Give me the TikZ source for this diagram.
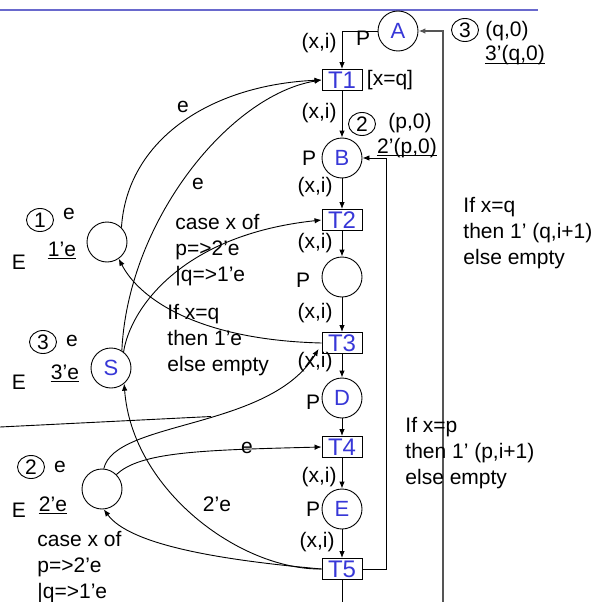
\documentclass[tikz,border=0pt]{standalone}
\usepackage{fontspec}
\setmainfont{Liberation Sans}
\usetikzlibrary{arrows.meta,shapes.geometric}
\definecolor{tblue}{RGB}{55,55,215}
\definecolor{rulecol}{RGB}{105,105,205}
\definecolor{backarc}{RGB}{85,85,85}

\begin{document}
\begin{tikzpicture}[x=1pt,y=-1pt,line width=0.9pt,
  every node/.style={font=\fontsize{21}{26}\selectfont},
  place/.style={draw,circle,minimum size=40pt,inner sep=0pt,text=tblue,font=\fontsize{22}{26}\selectfont},
  trans/.style={draw,rectangle,minimum width=40pt,minimum height=21pt,inner sep=0pt,text=tblue,font=\fontsize{24}{26}\selectfont},
  token/.style={draw,ellipse,minimum width=27pt,minimum height=23pt,inner sep=0pt},
  flow/.style={-{Latex[length=7pt,width=5.5pt]}},
  block/.style={align=left,anchor=west,inner sep=0pt},
  ulbl/.style={anchor=base,inner sep=0pt},
  ul/.style={line width=1.5pt}]
\useasboundingbox (0,0) rectangle (597,602);
\draw[rulecol,line width=1.3pt] (0,10) -- (538,10);

\node[place] (pA) at (398,31) {A};
\node[trans] (T1) at (342,80) {T1};
\node[place] (pB) at (342,158) {B};
\node[trans] (T2) at (342,220) {T2};
\node[place] (pC) at (342,277) {};
\node[trans] (T3) at (342,343) {T3};
\node[place] (pD) at (342,398) {D};
\node[trans] (T4) at (342,447) {T4};
\node[place] (pE) at (342,509) {E};
\node[trans] (T5) at (342,569) {T5};
\node[place] (pE1) at (107,242) {};
\node[place] (pS) at (111,368) {S};
\node[place] (pE2) at (102,489) {};

\coordinate (offB) at (342,602);
\coordinate (offR) at (443,602);
\coordinate (offL) at (0,427);
\coordinate (retB) at (386,158);
\coordinate (mrg) at (211,416.5);

\draw[flow] (pA) -| (T1);
\draw[flow] (T1) -- (pB);
\draw[flow] (pB) -- (T2);
\draw[flow] (T2) -- (pC);
\draw[flow] (pC) -- (T3);
\draw[flow] (T3) -- (pD);
\draw[flow] (pD) -- (T4);
\draw[flow] (T4) -- (pE);
\draw[flow] (pE) -- (T5);
\draw (T5) -- (offB);
\draw[flow] (T5.east) -| (retB) -- (pB);
\draw[flow,backarc,line width=1.6pt] (offR) |- (pA);

\draw[flow] (pE1.45) .. controls (127,140) and (210,85) .. (T1.west);
\draw[flow] (pS.58) .. controls (128,220) and (230,95) .. (T1.west);
\draw[flow] (pS.52) .. controls (130,310) and (180,235) .. (T2.west);
\draw[flow] (T3.west) .. controls (200,340) and (140,300) .. (pE1.-55);
\draw[flow] (pE2.85) .. controls (115,420) and (270,430) .. ([xshift=-3pt,yshift=5pt]T3.south west);
\draw (offL) -- (mrg);
\draw[flow] (pE2.45) .. controls (140,452) and (200,450) .. (T4.west);
\draw[flow] (T5.west) .. controls (240,570) and (132,490) .. (pS.-50);
\draw[flow] (T5.west) .. controls (220,560) and (130,545) .. (pE2.-85);

\node at (363,38) {P};
\node at (309,158) {P};
\node at (303,280) {P};
\node at (313,402) {P};
\node at (313,509) {P};
\node at (319,43) {(x,i)};
\node at (319,113) {(x,i)};
\node at (315,187) {(x,i)};
\node at (315,243) {(x,i)};
\node at (315,313) {(x,i)};
\node at (315,362) {(x,i)};
\node at (319,477) {(x,i)};
\node at (317,542) {(x,i)};
\node at (390,80) {[x=q]};

\node[token] at (465,30) {3};
\node at (507,31) {(q,0)};
\node[ulbl] (mA) at (515,61) {3'(q,0)};
\draw[ul] ([yshift=-2.5pt]mA.base west) -- ([yshift=-2.5pt]mA.base east);
\node[token] at (362,124) {2};
\node at (410,123) {(p,0)};
\node[ulbl] (mB) at (407,153) {2'(p,0)};
\draw[ul] ([yshift=-2.5pt]mB.base west) -- ([yshift=-2.5pt]mB.base east);

\node[token] at (40,220) {1};
\node at (69,214) {e};
\node[ulbl] (m1) at (62,256) {1'e};
\draw[ul] ([yshift=-2.5pt]m1.base west) -- ([yshift=-2.5pt]m1.base east);
\node at (19,262) {E};
\node[token] at (43,342) {3};
\node at (72,341) {e};
\node[ulbl] (m3) at (65,379) {3'e};
\draw[ul] ([yshift=-2.5pt]m3.base west) -- ([yshift=-2.5pt]m3.base east);
\node at (19,382) {E};
\node[token] at (31,467) {2};
\node at (60,467) {e};
\node[ulbl] (m2) at (53,511) {2'e};
\draw[ul] ([yshift=-2.5pt]m2.base west) -- ([yshift=-2.5pt]m2.base east);
\node at (19,510) {E};

\node at (183,107) {e};
\node at (198,184) {e};
\node at (247,448) {e};
\node at (217,504) {2'e};
\node[block] at (175,250) {case x of\\p=>2'e\\|q=>1'e};
\node[block] at (167,340) {If x=q\\then 1'e\\else empty};
\node[block] at (37,567) {case x of\\p=>2'e\\|q=>1'e};
\node[block] at (463,233) {If x=q\\then 1' (q,i+1)\\else empty};
\node[block] at (405,453) {If x=p\\then 1' (p,i+1)\\else empty};
\end{tikzpicture}
\end{document}
